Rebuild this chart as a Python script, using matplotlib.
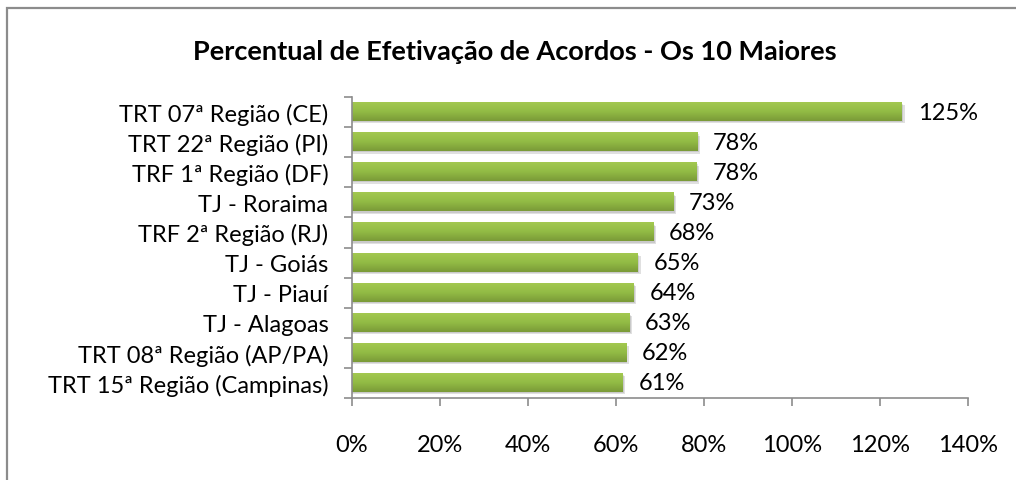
import numpy as np
import matplotlib
matplotlib.use("Agg")
import matplotlib.pyplot as plt
from matplotlib.patches import Rectangle
from matplotlib.colors import LinearSegmentedColormap

title = "Percentual de Efetivação de Acordos - Os 10 Maiores"
categories = ["TRT 07ª Região (CE)", "TRT 22ª Região (PI)", "TRF 1ª Região (DF)",
              "TJ - Roraima", "TRF 2ª Região (RJ)", "TJ - Goiás", "TJ - Piauí",
              "TJ - Alagoas", "TRT 08ª Região (AP/PA)", "TRT 15ª Região (Campinas)"]
values = [125, 78.5, 78.3, 73, 68.5, 65, 64, 63, 62.3, 61.5]
labels = ["125%", "78%", "78%", "73%", "68%", "65%", "64%", "63%", "62%", "61%"]
xticks = [0, 20, 40, 60, 80, 100, 120, 140]

plt.rcParams['font.family'] = ['Lato', 'DejaVu Sans']
FS = 17

fig = plt.figure(figsize=(10.16, 4.81), dpi=100)
# chart border (only top and left edges fall inside the image)
fig.patches.append(Rectangle((6.5/1016, -0.1), 1.2, (481 - 8.5)/481 + 0.1,
                             transform=fig.transFigure, fill=False,
                             edgecolor='#8c8c8c', linewidth=1.6))

ax = fig.add_axes([352/1016, 1-399/481, 616/1016, 301/481])
n = len(categories)
y = np.arange(n)
h = 0.6
cmap = LinearSegmentedColormap.from_list('g', ['#a3c850', '#92bb45', '#7a9a38'])
grad = np.linspace(0, 1, 64).reshape(-1, 1)
for yi, v in zip(y, values):
    # shadow
    ax.add_patch(Rectangle((0, yi - h/2 + 0.08), v + 0.6, h, facecolor='#000000',
                           alpha=0.12, edgecolor='none', zorder=1))
    ax.add_patch(Rectangle((0, yi - h/2 + 0.04), v + 0.3, h, facecolor='#000000',
                           alpha=0.10, edgecolor='none', zorder=1))
    ax.imshow(grad, cmap=cmap, aspect='auto', extent=(0, v, yi + h/2, yi - h/2),
              zorder=2, interpolation='bilinear')
for yi, v, lab in zip(y, values, labels):
    ax.text(v + 3.6, yi, lab, va='center', ha='left', fontsize=FS, color='black', zorder=3)

ax.set_xlim(0, 140)
ax.set_ylim(n - 0.5, -0.5)
ax.set_xticks(xticks)
ax.set_xticklabels([f"{t}%" for t in xticks], fontsize=FS)
ax.set_yticks(y)
ax.set_yticklabels(categories, fontsize=FS)
ax.set_yticks(np.arange(-0.5, n, 1), minor=True)
ax.tick_params(axis='y', which='major', length=0, pad=17)
ax.tick_params(axis='y', which='minor', length=6, width=1.2, color='#8c8c8c', direction='out')
ax.tick_params(axis='x', which='major', length=6, width=1.2, color='#8c8c8c', direction='out', pad=20)
for s in ['top', 'right']:
    ax.spines[s].set_visible(False)
for s in ['left', 'bottom']:
    ax.spines[s].set_color('#8c8c8c')
    ax.spines[s].set_linewidth(1.2)

fig.text(515/1016, 1-52/481, title, ha='center', va='center', fontsize=19.5, fontweight='bold')

fig.savefig('out.png', dpi=100)
